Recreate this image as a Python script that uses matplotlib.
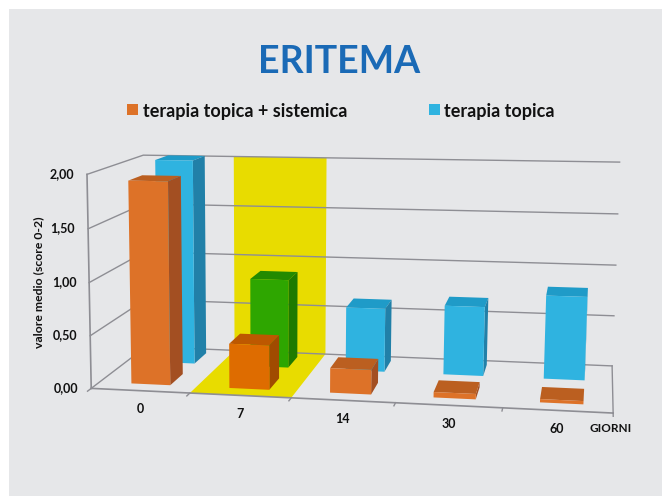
import numpy as np
import matplotlib
matplotlib.use("Agg")
import matplotlib.pyplot as plt
from matplotlib.patches import Rectangle
from mpl_toolkits.mplot3d import proj3d
from mpl_toolkits.mplot3d.art3d import Poly3DCollection

plt.rcParams['font.family'] = ['Lato', 'DejaVu Sans']

days = ['0', '7', '14', '30', '60']
topica_sistemica = [1.92, 0.42, 0.23, 0.05, 0.03]
topica = [2.02, 0.87, 0.62, 0.67, 0.80]
score_ticks = [0.0, 0.5, 1.0, 1.5, 2.0]
score_labels = ['0,00', '0,50', '1,00', '1,50', '2,00']

GREY = '#e6e7e9'
LINE = '#8e8e94'
ORANGE = ('#dd7228', '#bb5f20', '#a34f22')
ORANGE_7 = ('#de6c00', '#bd5800', '#a04b00')
BLUE = ('#2fb3e0', '#1f9bc8', '#2180a8')
GREEN = ('#2ea600', '#238a00', '#1f7a00')
NONE = (0, 0, 0, 0)

# where the chart box sits on the slide: (category, depth, score) -> pixel
anchors = [
    (0, 0, 0, 93, 389), (1, 0, 0, 192, 393.5), (2, 0, 0, 293, 398),
    (3, 0, 0, 397, 404), (4, 0, 0, 503, 408.5), (5, 0, 0, 612, 413),
    (1, 1, 0, 232, 351), (2, 1, 0, 326, 353), (5, 1, 0, 613, 364),
    (5, 1, 0.5, 615, 315), (5, 1, 1, 616, 265), (5, 1, 1.5, 618, 214),
    (5, 1, 2, 620, 163), (1, 1, 2, 233, 157), (2, 1, 2, 326, 158),
    (0, 1, 2, 150, 155), (0, 0, 0.5, 90, 335), (0, 0, 1, 87, 282),
    (0, 0, 1.5, 88, 228), (0, 0, 2, 85, 173),
    # repeated so the fit holds these corners tighter
    (5, 0, 0, 612, 413), (5, 0, 0, 612, 413), (4, 0, 0, 503, 408.5),
    (1, 1, 0, 232, 351), (1, 1, 2, 232, 157), (1, 1, 2, 232, 157),
]


def fit_projection(points):
    rows = []
    rhs = []
    for x, y, z, u, v in points:
        rows.append([x, y, z, 1, 0, 0, 0, 0, -u * x, -u * y, -u * z])
        rows.append([0, 0, 0, 0, x, y, z, 1, -v * x, -v * y, -v * z])
        rhs += [u, v]
    p = np.linalg.lstsq(np.array(rows, float), np.array(rhs, float), rcond=None)[0]
    return np.array([p[:4], p[4:8], [0, 1, 0, 0], [p[8], p[9], p[10], 1]])


def add_bar(ax, i, depth0, depth1, value, colors, zorder):
    front, top, side = colors
    # bar3d face order: bottom, top, front, back, left, right
    faces = [NONE, top, front, NONE, NONE, side]
    ax.bar3d(i + 0.33, depth0, 0, 0.40, depth1 - depth0, value, color=faces,
             shade=False, linewidth=0, zorder=zorder)


def chart_label(fig, x, y, z, label, ha):
    u, v, _ = proj3d.proj_transform(x, y, z, M)
    fig.text(u / 662, 1 - v / 496, label, ha=ha, va='center', fontsize=9,
             fontweight='bold', color='#111111')


M = fit_projection(anchors)

fig = plt.figure(figsize=(6.62, 4.96), dpi=100, facecolor='white')
fig.add_artist(Rectangle((9 / 662, 0), 653 / 662, 487 / 496, zorder=-1,
                         transform=fig.transFigure, facecolor=GREY, edgecolor='none'))

ax = fig.add_axes([0, 0, 1, 1], projection='3d', computed_zorder=False)
ax.patch.set_alpha(0)
ax.set_axis_off()
# ortho stops Line3D masking points outside [-1, 1], M gives pixels
ax.set_proj_type('ortho')
ax.apply_aspect = lambda position=None: None
ax.get_proj = lambda: M
ax.viewLim.intervalx = (0, 662)
ax.viewLim.intervaly = (496, 0)

# yellow highlight for day 7, floor and back wall
band = [[(1, 0, 0), (2, 0, 0), (2, 1, 0), (1, 1, 0)],
        [(1, 1, 0), (2, 1, 0), (2, 1, 2), (1, 1, 2)]]
ax.add_collection3d(Poly3DCollection(band, facecolors='#e8dc00', linewidths=0, zorder=1))

for s in score_ticks:
    ax.plot([0, 0, 5], [0, 1, 1], [s, s, s], color=LINE, lw=1, zorder=2)
ax.plot([0, 5], [0, 0], [0, 0], color=LINE, lw=1.2, zorder=2)
ax.plot([5, 5], [0, 1], [0, 0], color=LINE, lw=1, zorder=2)
ax.plot([0, 0], [0, 0], [0, 2], color=LINE, lw=1.2, zorder=2)
for i in range(6):
    ax.plot([i, i], [0, -0.06], [0, 0], color=LINE, lw=1, zorder=2)

for i in range(len(days)):
    add_bar(ax, i, 0.64, 0.90, topica[i], GREEN if i == 1 else BLUE, 3 + i)
for i in range(len(days)):
    add_bar(ax, i, 0.14, 0.39, topica_sistemica[i], ORANGE_7 if i == 1 else ORANGE, 10 + i)

for s, label in zip(score_ticks, score_labels):
    chart_label(fig, -0.13, 0, s, label, 'right')
for i, label in enumerate(days):
    chart_label(fig, i + 0.5, 0, -0.17, label, 'center')

fig.text(590 / 662, 1 - 429 / 496, 'GIORNI', ha='left', va='center', fontsize=8.5,
         fontweight='bold', color='#111111')
fig.text(39 / 662, 1 - 282 / 496, 'valore medio (score 0-2)', rotation=90, ha='center',
         va='center', fontsize=8.8, fontweight='bold', color='#111111')
fig.text(339 / 662, 1 - 62 / 496, 'ERITEMA', ha='center', va='center', fontsize=27,
         fontweight='bold', color='#1a6ab6')

fig.add_artist(Rectangle((127 / 662, 1 - 115 / 496), 11 / 662, 11 / 496,
                         transform=fig.transFigure, facecolor=ORANGE[0], edgecolor='none'))
fig.add_artist(Rectangle((429 / 662, 1 - 115 / 496), 11 / 662, 11 / 496,
                         transform=fig.transFigure, facecolor=BLUE[0], edgecolor='none'))
fig.text(143 / 662, 1 - 111 / 496, 'terapia topica + sistemica', ha='left', va='center',
         fontsize=13, fontweight='bold', color='#111111')
fig.text(444 / 662, 1 - 111 / 496, 'terapia topica', ha='left', va='center',
         fontsize=13, fontweight='bold', color='#111111')

fig.savefig('out.png', dpi=100)
